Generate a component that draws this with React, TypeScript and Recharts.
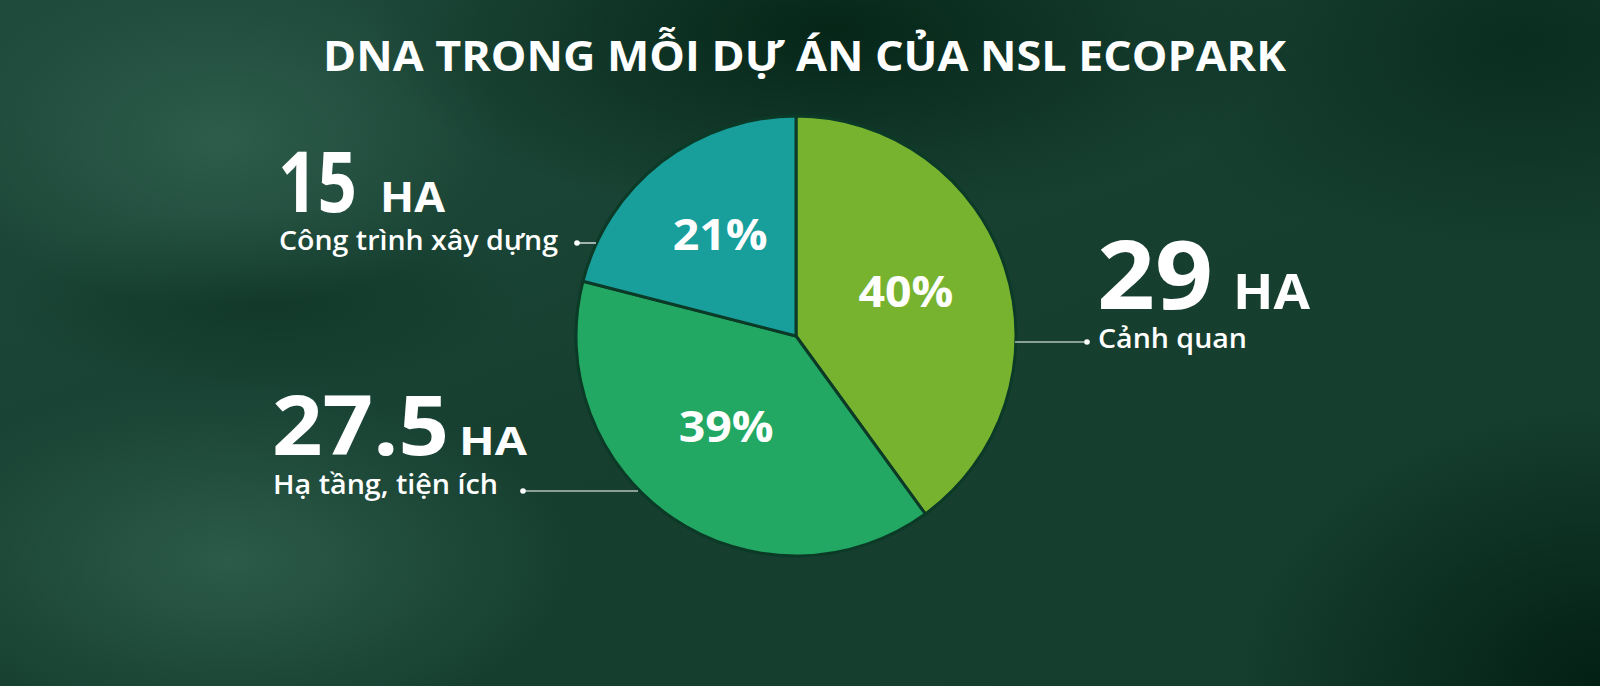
import React from 'react';
import { PieChart, Pie, Cell } from 'recharts';

const categories = ['Cảnh quan', 'Hạ tầng, tiện ích', 'Công trình xây dựng'];
const areaHa = [29, 27.5, 15];
const percentValues = [40, 39, 21];
const percentLabels = ['40%', '39%', '21%'];
const unitLabel = 'HA';
const title = 'DNA TRONG MỖI DỰ ÁN CỦA NSL ECOPARK';
const sliceColors = ['#77b32f', '#22a863', '#189e9b'];

const data = categories.map((name, i) => ({
  name,
  value: percentValues[i],
  label: percentLabels[i],
  ha: areaHa[i],
}));

const FONT = '"Open Sans", "Noto Sans", sans-serif';
const RAD = Math.PI / 180;

const renderPct = (props: any) => {
  const { cx, cy, midAngle, outerRadius, index } = props;
  const r = outerRadius * 0.54;
  const x = cx + r * Math.cos(-midAngle * RAD) - 3;
  const y = cy + r * Math.sin(-midAngle * RAD) - 9;
  return (
    <text
      x={x}
      y={y}
      fill="#ffffff"
      textAnchor="middle"
      dominantBaseline="central"
      fontFamily={FONT}
      fontWeight={700}
      fontSize={43}
      textLength={95}
      lengthAdjust="spacingAndGlyphs"
    >
      {data[index].label}
    </text>
  );
};

const bg = [
  'radial-gradient(ellipse 460px 190px at 830px 30px, rgba(4,36,22,0.95), rgba(4,36,22,0) 100%)',
  'radial-gradient(ellipse 360px 280px at 1600px 686px, rgba(2,30,18,0.95), rgba(2,30,18,0) 100%)',
  'radial-gradient(ellipse 380px 220px at 1520px 40px, rgba(6,40,26,0.75), rgba(6,40,26,0) 100%)',
  'radial-gradient(ellipse 280px 170px at 220px 140px, rgba(50,98,80,0.8), rgba(50,98,80,0) 100%)',
  'radial-gradient(ellipse 340px 180px at 230px 560px, rgba(50,98,80,0.8), rgba(50,98,80,0) 100%)',
  'radial-gradient(ellipse 260px 90px at 260px 300px, rgba(14,52,36,0.7), rgba(14,52,36,0) 100%)',
  'linear-gradient(160deg, #1f4b3c 0%, #163f30 50%, #143d2d 100%)',
].join(', ');

export default function App() {
  return (
    <div
      style={{
        position: 'fixed',
        left: 0,
        top: 0,
        width: 1600,
        height: 686,
        overflow: 'hidden',
        background: bg,
      }}
    >
      <div style={{ position: 'absolute', left: 0, top: 0 }}>
        <PieChart width={1600} height={686} margin={{ top: 0, right: 0, bottom: 0, left: 0 }}>
          <Pie
            data={data}
            dataKey="value"
            nameKey="name"
            cx={796}
            cy={336}
            outerRadius={220}
            startAngle={90}
            endAngle={-270}
            stroke="#0b3a27"
            strokeWidth={3}
            label={renderPct}
            labelLine={false}
            isAnimationActive={false}
          >
            {data.map((d, i) => (
              <Cell key={d.name} fill={sliceColors[i]} />
            ))}
          </Pie>
        </PieChart>
      </div>
      <svg
        width={1600}
        height={686}
        style={{ position: 'absolute', left: 0, top: 0, pointerEvents: 'none' }}
      >
        <text x={323} y={71} fill="#fff" fontFamily={FONT} fontWeight={700} fontSize={42}
          textLength={963} lengthAdjust="spacingAndGlyphs">{title}</text>

        {/* Công trình xây dựng */}
        <text x={278} y={212} fill="#fff" fontFamily={FONT} fontWeight={700} fontSize={85}
          textLength={79} lengthAdjust="spacingAndGlyphs">{String(areaHa[2])}</text>
        <text x={380} y={212} fill="#fff" fontFamily={FONT} fontWeight={700} fontSize={41}
          textLength={65} lengthAdjust="spacingAndGlyphs">{unitLabel}</text>
        <text x={279} y={250} fill="#fff" fontFamily={FONT} fontWeight={600} fontSize={27}
          textLength={279} lengthAdjust="spacingAndGlyphs">{categories[2]}</text>
        <line x1={577} y1={243} x2={596} y2={243} stroke="#fff" strokeWidth={1.2} />
        <circle cx={577} cy={243} r={2.8} fill="#fff" />

        {/* Cảnh quan */}
        <text x={1097} y={309} fill="#fff" fontFamily={FONT} fontWeight={700} fontSize={95}
          textLength={116} lengthAdjust="spacingAndGlyphs">{String(areaHa[0])}</text>
        <text x={1233} y={309} fill="#fff" fontFamily={FONT} fontWeight={700} fontSize={49}
          textLength={77} lengthAdjust="spacingAndGlyphs">{unitLabel}</text>
        <text x={1098} y={348} fill="#fff" fontFamily={FONT} fontWeight={600} fontSize={27}
          textLength={149} lengthAdjust="spacingAndGlyphs">{categories[0]}</text>
        <line x1={1015} y1={342} x2={1087} y2={342} stroke="#fff" strokeWidth={1.2} />
        <circle cx={1087} cy={342} r={2.8} fill="#fff" />

        {/* Hạ tầng, tiện ích */}
        <text x={272} y={455} fill="#fff" fontFamily={FONT} fontWeight={700} fontSize={83}
          textLength={177} lengthAdjust="spacingAndGlyphs">{String(areaHa[1])}</text>
        <text x={459} y={455} fill="#fff" fontFamily={FONT} fontWeight={700} fontSize={40}
          textLength={68} lengthAdjust="spacingAndGlyphs">{unitLabel}</text>
        <text x={273} y={494} fill="#fff" fontFamily={FONT} fontWeight={600} fontSize={27}
          textLength={225} lengthAdjust="spacingAndGlyphs">{categories[1]}</text>
        <line x1={523} y1={491} x2={638} y2={491} stroke="#fff" strokeWidth={1.2} />
        <circle cx={523} cy={491} r={2.8} fill="#fff" />
      </svg>
    </div>
  );
}
